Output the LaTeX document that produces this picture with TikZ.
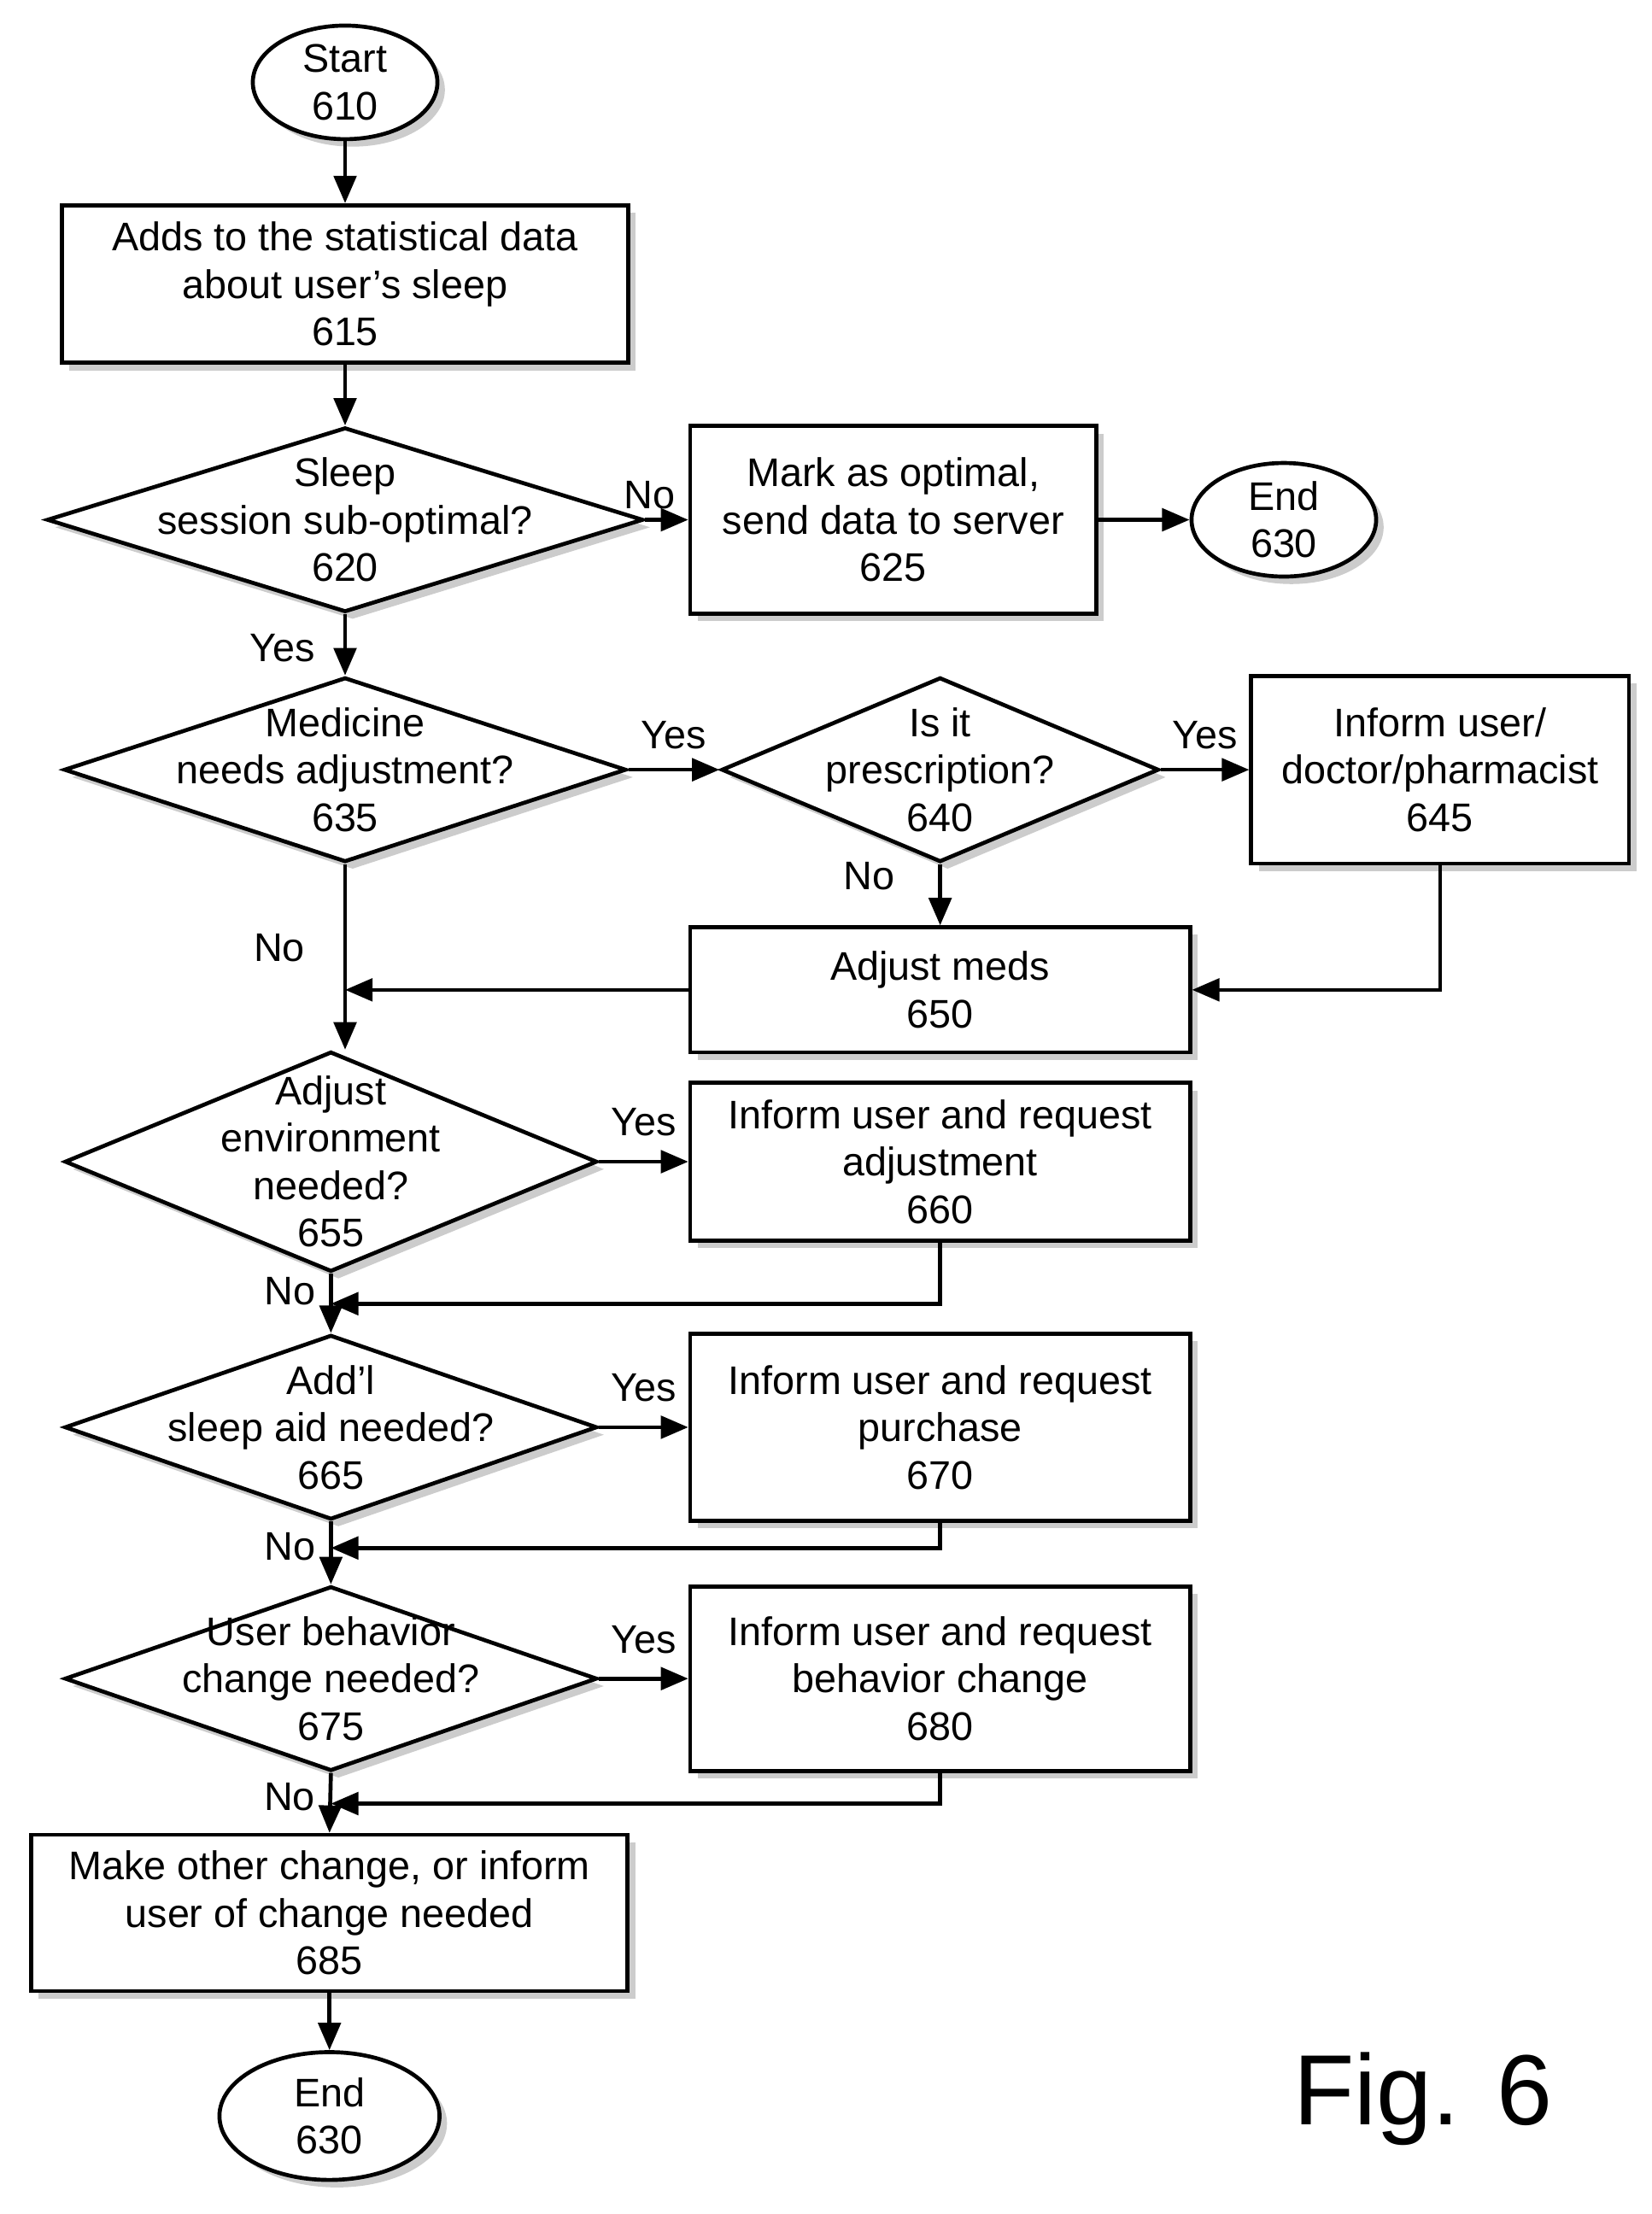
\documentclass[tikz,border=0pt]{standalone}
\usepackage{fontspec}
\setmainfont{Liberation Sans}
\usetikzlibrary{shapes.geometric,arrows.meta,shadows}

\tikzset{
	base/.style={draw, line width=1.6pt, fill=white, drop shadow={shadow xshift=3pt, shadow yshift=-3pt, fill=black!40}},
	box/.style={base, rectangle, align=center, inner sep=0pt},
	term/.style={base, ellipse, align=center, inner sep=0pt},
	dia/.style={base, diamond, inner sep=0pt},
	txt/.style={align=center},
	flow/.style={line width=1.6pt, -{Triangle[length=11pt,width=9pt]}},
	lbl/.style={font=\fontsize{16}{19}\selectfont}
}

\begin{document}
\begin{tikzpicture}[x=0.02cm, y=-0.02cm, font=\fontsize{16}{19}\selectfont]
	\useasboundingbox (0,0) rectangle (1163,1559);

	% top part
	\node[term, minimum width=2.6cm, minimum height=1.6cm] (start) at (243,58) {Start\\610};
	\node[box, minimum width=7.98cm, minimum height=2.22cm] (b615) at (243,200) {Adds to the statistical data\\about user's sleep\\615};
	\node[dia, minimum width=8.4cm, minimum height=2.6cm] (d620) at (243,366) {};
	\node[txt] (t620) at (d620) {Sleep\\session sub-optimal?\\620};
	\node[box, minimum width=5.72cm, minimum height=2.64cm] (b625) at (629,366) {Mark as optimal,\\send data to server\\625};
	\node[term, minimum width=2.6cm, minimum height=1.6cm] (end1) at (904,366) {End\\630};

	% medicine
	\node[dia, minimum width=7.92cm, minimum height=2.6cm] (d635) at (243,542) {};
	\node[txt] (t635) at (d635) {Medicine\\needs adjustment?\\635};
	\node[dia, minimum width=6.16cm, minimum height=2.6cm] (d640) at (662,542) {};
	\node[txt] (t640) at (d640) {Is it\\prescription?\\640};
	\node[box, minimum width=5.32cm, minimum height=2.64cm] (b645) at (1014,542) {Inform user/\\doctor/pharmacist\\645};
	\node[box, minimum width=7.04cm, minimum height=1.76cm] (b650) at (662,697) {Adjust meds\\650};

	% other checks
	\node[dia, minimum width=7.5cm, minimum height=3.1cm] (d655) at (233,818) {};
	\node[txt] (t655) at (d655) {Adjust\\environment\\needed?\\655};
	\node[box, minimum width=7.04cm, minimum height=2.22cm] (b660) at (662,818) {Inform user and request\\adjustment\\660};
	\node[dia, minimum width=7.5cm, minimum height=2.6cm] (d665) at (233,1005) {};
	\node[txt] (t665) at (d665) {Add'l\\sleep aid needed?\\665};
	\node[box, minimum width=7.04cm, minimum height=2.64cm] (b670) at (662,1005) {Inform user and request\\purchase\\670};
	\node[dia, minimum width=7.5cm, minimum height=2.6cm] (d675) at (233,1182) {};
	\node[txt] (t675) at (d675) {User behavior\\change needed?\\675};
	\node[box, minimum width=7.04cm, minimum height=2.6cm] (b680) at (662,1182) {Inform user and request\\behavior change\\680};
	\node[box, minimum width=8.4cm, minimum height=2.2cm] (b685) at (232,1347) {Make other change, or inform\\user of change needed\\685};
	\node[term, minimum width=3.1cm, minimum height=1.8cm] (end2) at (232,1490) {End\\630};

	\node[font=\fontsize{40}{48}\selectfont] (fig) at (1002,1478) {Fig. 6};

	% connectors
	\coordinate (j650) at (243,697);
	\coordinate (j660) at (233,918);
	\coordinate (j670) at (233,1090);
	\coordinate (j680) at (233,1270);

	\draw[flow] (start) -- (b615);
	\draw[flow] (b615) -- (d620);
	\draw[flow] (d620) -- node[pos=0.1, above]{No} (b625);
	\draw[flow] (b625) -- (end1);
	\draw[flow] (d620) -- node[pos=0.55, left=8pt]{Yes} (d635);
	\draw[flow] (d635) -- node[above=4pt]{Yes} (d640);
	\draw[flow] (d640) -- node[above=4pt]{Yes} (b645);
	\draw[flow] (d640) -- node[pos=0.2, left=14pt]{No} (b650);
	\draw[flow] (b645.south) |- (b650.east);
	\draw[flow] (b650.west) -- (j650);
	\draw[flow] (d635.south) -- node[pos=0.45, left=12pt]{No} (d635.south |- d655.north);
	\draw[flow] (d655) -- node[above=6pt]{Yes} (b660);
	\draw[flow] (b660.south) |- (j660);
	\draw[flow] (d655.south) -- node[pos=0.3, left=2pt]{No} (d665.north);
	\draw[flow] (d665) -- node[above=6pt]{Yes} (b670);
	\draw[flow] (b670.south) |- (j670);
	\draw[flow] (d665.south) -- node[pos=0.4, left=2pt]{No} (d675.north);
	\draw[flow] (d675) -- node[above=6pt]{Yes} (b680);
	\draw[flow] (b680.south) |- (j680);
	\draw[flow] (d675.south) -- node[pos=0.4, left=2pt]{No} (b685.north);
	\draw[flow] (b685) -- (end2);
\end{tikzpicture}
\end{document}
